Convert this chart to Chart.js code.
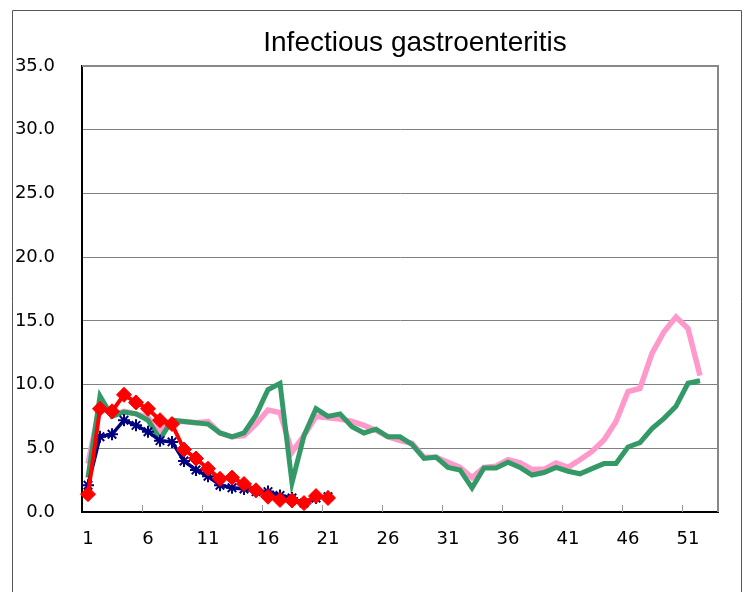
<!DOCTYPE html>
<html><head><meta charset="utf-8">
<script src="https://cdn.jsdelivr.net/npm/chart.js@4"></script>
<style>html,body{margin:0;padding:0;background:#fff;}#wrap{width:752px;height:592px;}</style>
</head><body><div id="wrap"><canvas id="c" width="752" height="592"></canvas></div>
<script>
const chartTitle = 'Infectious gastroenteritis';
const weeks = [1,2,3,4,5,6,7,8,9,10,11,12,13,14,15,16,17,18,19,20,21,22,23,24,25,26,27,28,29,30,31,32,33,34,35,36,37,38,39,40,41,42,43,44,45,46,47,48,49,50,51,52,53];
const xTickLabels = ['1','6','11','16','21','26','31','36','41','46','51'];
const yTickValues = [0,5,10,15,20,25,30,35];

const seasonPink = [3.8,8.4,7.6,7.9,7.7,7.4,6.3,7.1,7.1,7.0,7.1,6.2,5.9,6.0,6.9,8.0,7.8,4.7,6.0,7.5,7.4,7.3,7.1,6.8,6.4,5.9,5.6,5.4,4.3,4.3,3.9,3.5,2.7,3.5,3.6,4.1,3.85,3.35,3.35,3.85,3.5,4.1,4.75,5.65,7.1,9.45,9.7,12.45,14.15,15.3,14.4,10.7];
const seasonGreen = [2.7,9.1,7.5,7.85,7.7,7.2,5.7,7.2,7.1,7.0,6.9,6.2,5.9,6.2,7.6,9.6,10.1,2.3,6.0,8.1,7.5,7.7,6.7,6.2,6.5,5.9,5.9,5.3,4.2,4.3,3.5,3.3,1.9,3.45,3.45,3.9,3.5,2.9,3.1,3.5,3.2,3.0,3.4,3.8,3.8,5.1,5.45,6.55,7.35,8.3,10.1,10.3];
const seasonNavy = [2.1,5.9,6.1,7.2,6.8,6.3,5.6,5.5,4.0,3.3,2.8,2.1,1.9,1.8,1.6,1.6,1.3,1.1,0.7,1.1,1.2];
const seasonRed = [1.4,8.1,7.9,9.2,8.6,8.1,7.2,6.9,4.9,4.2,3.4,2.6,2.7,2.2,1.7,1.2,0.95,0.9,0.7,1.25,1.1];

const framePlugin = {
  id: 'frame',
  beforeDraw(chart) {
    const ctx = chart.ctx;
    ctx.save();
    ctx.fillStyle = '#fff';
    ctx.fillRect(0, 0, chart.width, chart.height);
    ctx.strokeStyle = '#555';
    ctx.lineWidth = 1;
    ctx.beginPath();
    ctx.moveTo(12.5, 600); ctx.lineTo(12.5, 10.5); ctx.lineTo(741.5, 10.5); ctx.lineTo(741.5, 600);
    ctx.stroke();
    ctx.restore();
  },
  afterLayout(chart) {
    if (chart.titleBlock) { chart.titleBlock.left = 100; chart.titleBlock.right = 730; }
  },
  beforeDatasetsDraw(chart) {
    const ctx = chart.ctx, a = chart.chartArea, xs = chart.scales.x;
    ctx.save();
    ctx.strokeStyle = '#888';
    ctx.lineWidth = 2;
    ctx.beginPath();
    ctx.moveTo(a.left, a.top); ctx.lineTo(a.right, a.top); ctx.lineTo(a.right, a.bottom);
    ctx.stroke();
    ctx.strokeStyle = '#999';
    ctx.lineWidth = 1;
    ctx.beginPath();
    for (let b = 5; b < weeks.length; b += 5) {
      const px = Math.round((xs.getPixelForValue(b - 1) + xs.getPixelForValue(b)) / 2) + 0.5;
      ctx.moveTo(px, a.bottom - 7); ctx.lineTo(px, a.bottom);
    }
    ctx.stroke();
    ctx.restore();
  }
};

new Chart(document.getElementById('c'), {
  type: 'line',
  data: {
    labels: weeks,
    datasets: [
      { label: 'Red', data: seasonRed, borderColor: '#ff0000', backgroundColor: '#ff0000', borderWidth: 4,
        pointStyle: 'rectRot', pointRadius: 7.5, pointBorderWidth: 1, tension: 0 },
      { label: 'Navy', data: seasonNavy, borderColor: '#000080', backgroundColor: '#000080', borderWidth: 3.5,
        pointStyle: 'star', pointRadius: 6, pointBorderWidth: 2, tension: 0 },
      { label: 'Green', data: seasonGreen, borderColor: '#339966', borderWidth: 5, pointRadius: 0, tension: 0 },
      { label: 'Pink', data: seasonPink, borderColor: '#ff99cc', borderWidth: 5.5, pointRadius: 0, tension: 0 }
    ]
  },
  options: {
    responsive: false,
    animation: false,
    layout: { padding: { top: 0, right: 34, bottom: 0, left: 0 } },
    plugins: {
      legend: { display: false },
      tooltip: { enabled: false },
      title: { display: true, text: chartTitle, color: '#000',
        font: { family: 'Liberation Sans, Arial, sans-serif', size: 28, weight: 'normal', lineHeight: 1.2 },
        padding: { top: 26, bottom: 6.4 } }
    },
    scales: {
      x: {
        type: 'category', offset: true,
        grid: { display: false, drawTicks: false },
        border: { display: true, color: '#000', width: 2 },
        ticks: { autoSkip: false, maxRotation: 0, minRotation: 0, padding: 17, color: '#000',
          font: { family: 'DejaVu Sans, sans-serif', size: 18 },
          callback: function(v, i) { const l = String(weeks[i]); return xTickLabels.includes(l) ? l : ''; } },
        afterFit(s) { s.height = 80; }
      },
      y: {
        min: 0, max: 35,
        afterBuildTicks(s) { s.ticks = yTickValues.map(v => ({ value: v })); },
        grid: { color: '#808080', lineWidth: 1, drawTicks: false },
        border: { display: true, color: '#000', width: 2 },
        ticks: { padding: 27, color: '#000', font: { family: 'DejaVu Sans, sans-serif', size: 18 },
          callback: v => Number(v).toFixed(1) },
        afterFit(s) { s.width = 82; }
      }
    }
  },
  plugins: [framePlugin]
});
</script></body></html>
